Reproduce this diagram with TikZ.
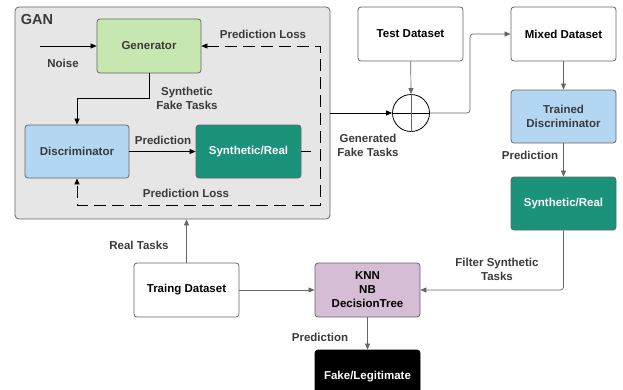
\documentclass[tikz,border=0pt]{standalone}
\usepackage{fontspec}
\setmainfont{Liberation Sans}
\usetikzlibrary{arrows.meta}

\definecolor{ganbg}{HTML}{E6E6E6}
\definecolor{gengreen}{HTML}{C6E8B0}
\definecolor{discblue}{HTML}{B3D6F2}
\definecolor{teal}{HTML}{1B937A}
\definecolor{knnpurple}{HTML}{D5BDD5}
\definecolor{edgegray}{HTML}{666666}
\definecolor{textgray}{HTML}{3A3A3A}

\tikzset{
    box/.style={draw=edgegray, rounded corners=3pt, line width=0.8pt, align=center,
        minimum width=105pt, minimum height=54pt, font=\bfseries\fontsize{11.5}{14}\selectfont},
    lbl/.style={align=center, text=textgray, font=\bfseries\fontsize{11.5}{14}\selectfont},
    arr/.style={-{Triangle[length=6pt,width=5pt]}, line width=0.7pt},
    garr/.style={arr, draw=edgegray, -{Triangle[length=6pt,width=5pt,fill=edgegray]}}
}

\begin{document}
\begin{tikzpicture}[x=1pt, y=-1pt]
    \useasboundingbox (0,0) rectangle (623,389);
    \clip (0,0) rectangle (623,389);

    % GAN frame
    \node[draw=edgegray, fill=ganbg, rounded corners=4pt, line width=0.8pt,
        minimum width=315pt, minimum height=212pt] (gan) at (172.5,113) {};
    \node[lbl, font=\bfseries\fontsize{14.5}{16}\selectfont] (ganlbl) at (37,20) {GAN};

    % boxes
    \node[box, fill=gengreen, text=textgray, minimum width=104pt] (gen) at (149,46) {Generator};
    \node[box, fill=discblue, text=textgray, minimum width=104pt, minimum height=53pt] (disc) at (77,151.5) {Discriminator};
    \node[box, fill=teal, text=white, minimum height=53pt] (synth) at (248.5,151.5) {Synthetic/Real};
    \node[box, fill=white] (test) at (410.5,34) {Test Dataset};
    \node[box, fill=white] (mixed) at (563.5,34) {Mixed Dataset};
    \node[box, fill=discblue, text=textgray, minimum height=53pt] (trained) at (563.5,116.5) {Trained\\Discriminator};
    \node[box, fill=teal, text=white, minimum height=53pt] (synthb) at (563.5,203.5) {Synthetic/Real};
    \node[box, fill=white] (train) at (186.5,290) {Traing Dataset};
    \node[box, fill=knnpurple] (knn) at (367.5,290) {KNN\\NB\\DecisionTree};
    \node[box, fill=black, draw=black, text=white] (fake) at (367.5,377) {Fake/Legitimate};

    % summing junction
    \node[circle, draw=black, line width=0.8pt, minimum size=37pt, inner sep=0pt] (sum) at (411,113) {};

    % coordinates
    \coordinate (noisein) at (40,46);
    \coordinate (bendgd) at (149,98);
    \coordinate (lossTR) at (320,46);
    \coordinate (lossBR) at (320,205);
    \coordinate (lossBL) at (77,205);
    \coordinate (sumout) at (470,113);

    % GAN internals
    \draw[arr] (noisein) -- (gen.west);
    \draw[arr] (gen.south) -- (bendgd) -| (disc.north);
    \draw[arr] (disc) -- (synth);
    \draw[line width=0.7pt] (synth.east) -- ++(10,0);
    \draw[arr, {Triangle[length=6pt,width=5pt]}-{Triangle[length=6pt,width=5pt]},
        dash pattern=on 12pt off 6pt] (gen.east) -- (lossTR) -- (lossBR) -- (lossBL) -- (disc.south);

    % outer flow
    \draw[arr] (gan.east |- sum) -- (sum.west);
    \draw[line width=0.7pt] (sum.west) -- (sum.east);
    \draw[garr] (test) -- (sum.north);
    \draw[edgegray, line width=0.7pt] (sum.north) -- (sum.south);
    \draw[garr, rounded corners=3pt] (sum.east) -- (sumout) |- (mixed.west);
    \draw[garr] (mixed) -- (trained);
    \draw[garr] (trained) -- (synthb);
    \draw[garr, rounded corners=3pt] (synthb.south) |- (knn.east);
    \draw[garr] (train) -- (knn);
    \draw[garr] (train.north) -- (train.north |- gan.south);
    \draw[garr] (knn) -- (fake);

    % labels
    \node[lbl] (noiselbl) at (63,63) {Noise};
    \node[lbl] (losstop) at (263,34) {Prediction Loss};
    \node[lbl] (sftlbl) at (187,98) {Synthetic\\Fake Tasks};
    \node[lbl] (predlbl) at (163,140) {Prediction};
    \node[lbl] (lossbot) at (186,193) {Prediction Loss};
    \node[lbl] (genlbl) at (368,145) {Generated\\Fake Tasks};
    \node[lbl] (predtr) at (530,155) {Prediction};
    \node[lbl] (filterlbl) at (497,269) {Filter Synthetic\\Tasks};
    \node[lbl] (reallbl) at (139,245) {Real Tasks};
    \node[lbl] (predknn) at (320,337) {Prediction};
\end{tikzpicture}
\end{document}
